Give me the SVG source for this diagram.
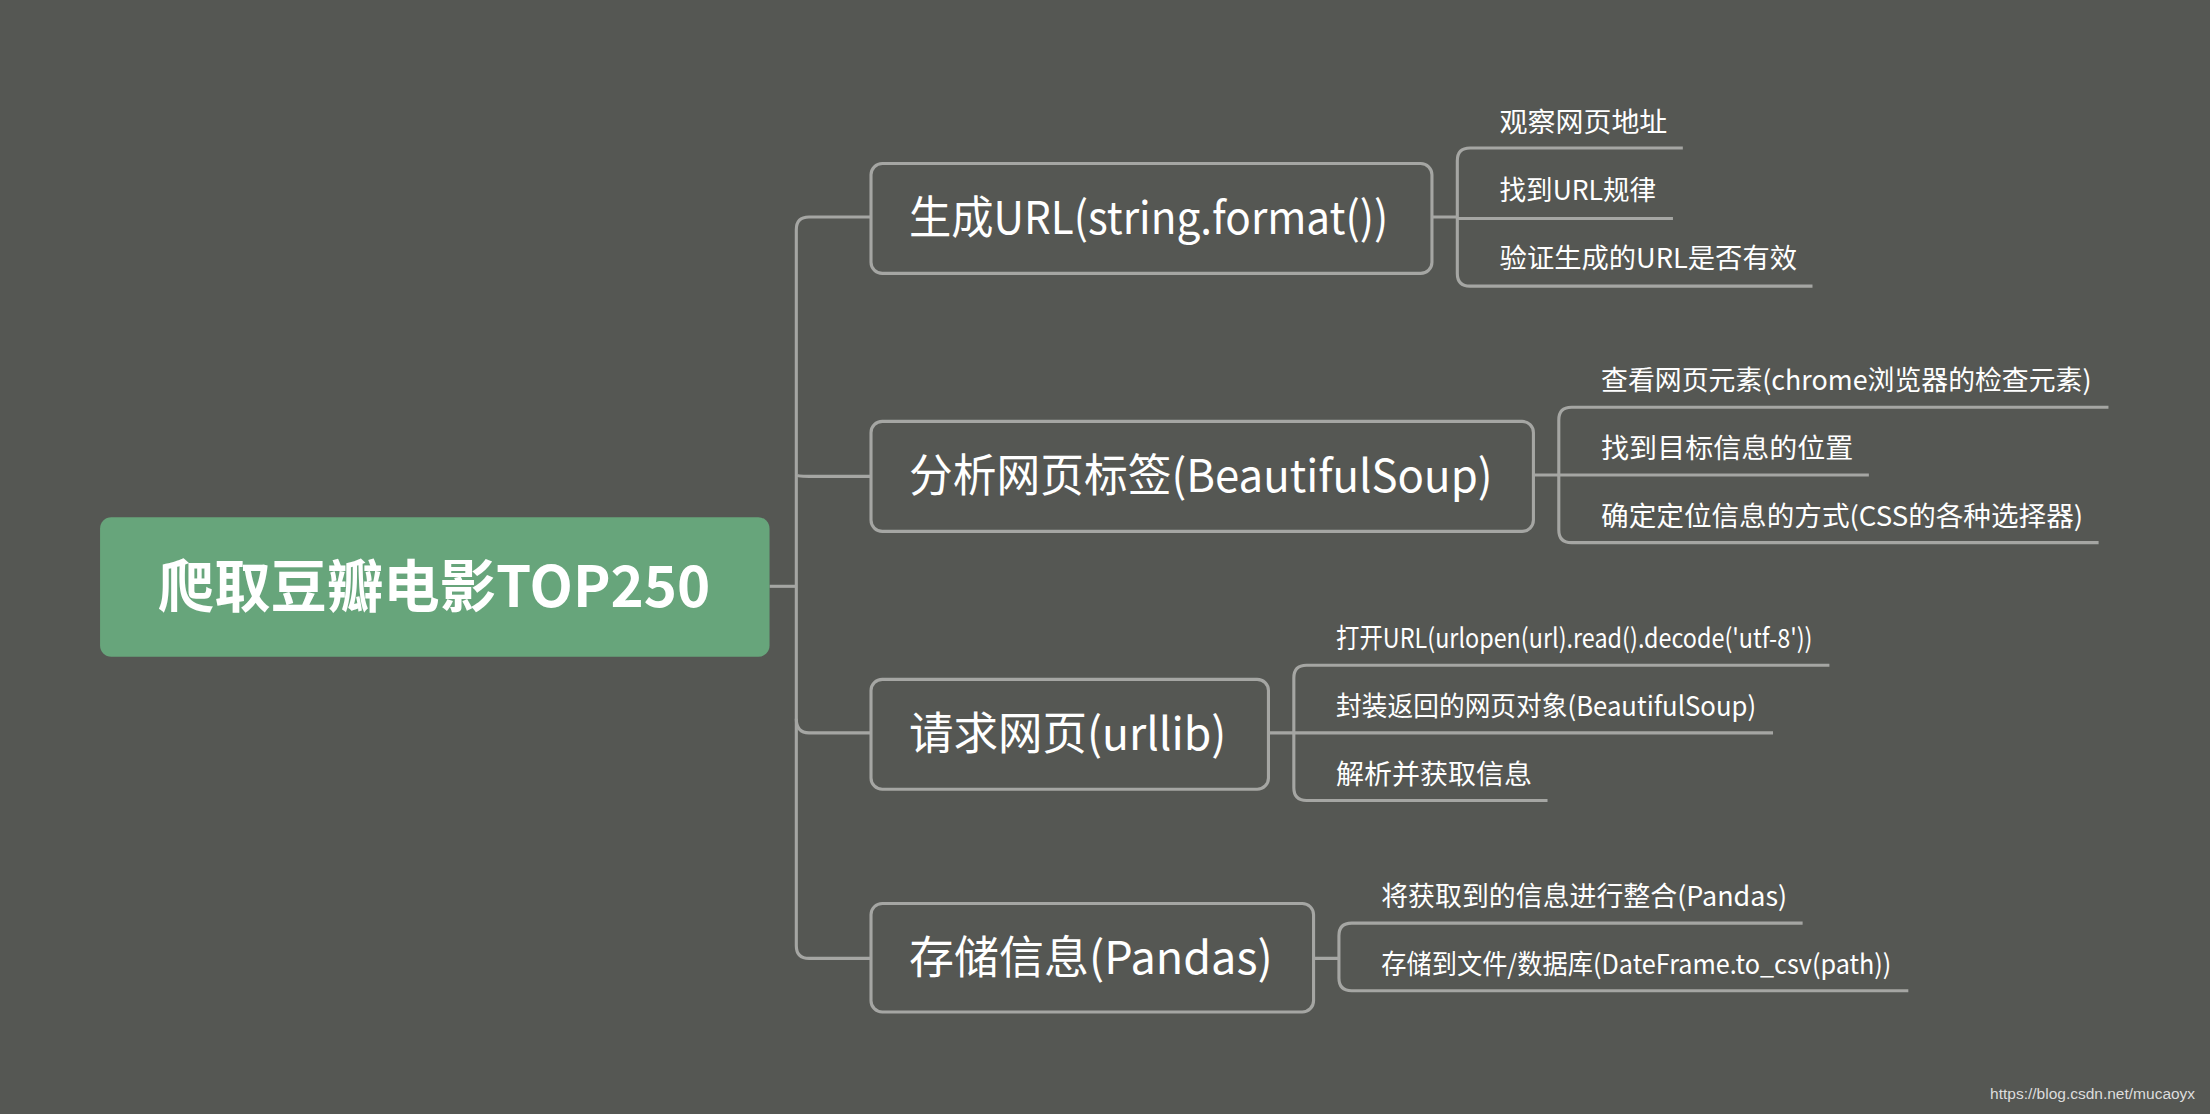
<svg xmlns="http://www.w3.org/2000/svg" width="2210" height="1114" viewBox="0 0 2210 1114">
<style>
.ln{fill:none;stroke:#a5a6a3;stroke-width:2.2}
.bx{fill:#555753;stroke:#a5a6a3;stroke-width:2.2}
.t{font-family:"Noto Sans CJK SC","Liberation Sans",sans-serif;fill:#ffffff}
.m{font-size:32px}
.c{font-size:19px}
</style>
<rect width="2210" height="1114" fill="#555753"/>
<g transform="scale(1.4094)">
<g id="connectors">
<path class="ln" d="M546 416H565"/>
<path class="ln" d="M618 154H574Q565 154 565 163V671Q565 680 574 680H618"/>
<path class="ln" d="M565 337Q565 338 574 338H618M565 510Q565 520 574 520H618"/>
<path class="ln" d="M1016 154H1034M1194 105H1043Q1034 105 1034 114V194Q1034 203 1043 203H1286M1034 155H1187"/>
<path class="ln" d="M1088 337H1106M1496 289H1115Q1106 289 1106 298V376Q1106 385 1115 385H1489M1106 337H1326"/>
<path class="ln" d="M900 520H918M1298 472H927Q918 472 918 481V559Q918 568 927 568H1098M918 520H1258"/>
<path class="ln" d="M932 680H950M1279 655H959Q950 655 950 664V694Q950 703 959 703H1354"/>
</g>
<g id="root">
<rect x="71" y="367" width="475" height="99" rx="8" fill="#67a57b"/>
<text class="t" x="112" y="431" font-size="40" font-weight="bold" textLength="392" lengthAdjust="spacingAndGlyphs">爬取豆瓣电影TOP250</text>
</g>
<g id="n1">
<rect class="bx" x="618" y="116" width="398" height="78" rx="8"/>
<text class="t m" x="645" y="166" textLength="340" lengthAdjust="spacingAndGlyphs">生成URL(string.format())</text>
</g>
<g id="n2">
<rect class="bx" x="618" y="299" width="470" height="78" rx="8"/>
<text class="t m" x="645" y="349" textLength="414" lengthAdjust="spacingAndGlyphs">分析网页标签(BeautifulSoup)</text>
</g>
<g id="n3">
<rect class="bx" x="618" y="482" width="282" height="78" rx="8"/>
<text class="t m" x="645" y="532" textLength="225" lengthAdjust="spacingAndGlyphs">请求网页(urllib)</text>
</g>
<g id="n4">
<rect class="bx" x="618" y="641" width="314" height="77" rx="8"/>
<text class="t m" x="645" y="691" textLength="258" lengthAdjust="spacingAndGlyphs">存储信息(Pandas)</text>
</g>
<g id="c1"><text class="t c" x="1064" y="94" textLength="119" lengthAdjust="spacingAndGlyphs">观察网页地址</text></g>
<g id="c2"><text class="t c" x="1064" y="142" textLength="111" lengthAdjust="spacingAndGlyphs">找到URL规律</text></g>
<g id="c3"><text class="t c" x="1064" y="190" textLength="211" lengthAdjust="spacingAndGlyphs">验证生成的URL是否有效</text></g>
<g id="c4"><text class="t c" x="1136" y="277" textLength="348" lengthAdjust="spacingAndGlyphs">查看网页元素(chrome浏览器的检查元素)</text></g>
<g id="c5"><text class="t c" x="1136" y="325" textLength="179" lengthAdjust="spacingAndGlyphs">找到目标信息的位置</text></g>
<g id="c6"><text class="t c" x="1136" y="373" textLength="342" lengthAdjust="spacingAndGlyphs">确定定位信息的方式(CSS的各种选择器)</text></g>
<g id="c7"><text class="t c" x="948" y="460" textLength="338" lengthAdjust="spacingAndGlyphs">打开URL(urlopen(url).read().decode('utf-8'))</text></g>
<g id="c8"><text class="t c" x="948" y="508" textLength="298" lengthAdjust="spacingAndGlyphs">封装返回的网页对象(BeautifulSoup)</text></g>
<g id="c9"><text class="t c" x="948" y="556" textLength="139" lengthAdjust="spacingAndGlyphs">解析并获取信息</text></g>
<g id="c10"><text class="t c" x="980" y="643" textLength="288" lengthAdjust="spacingAndGlyphs">将获取到的信息进行整合(Pandas)</text></g>
<g id="c11"><text class="t c" x="980" y="691" textLength="362" lengthAdjust="spacingAndGlyphs">存储到文件/数据库(DateFrame.to_csv(path))</text></g>
<text x="1412" y="780" font-family="Liberation Sans,sans-serif" font-size="11" fill="#dddddd">https://blog.csdn.net/mucaoyx</text>
</g>
</svg>
